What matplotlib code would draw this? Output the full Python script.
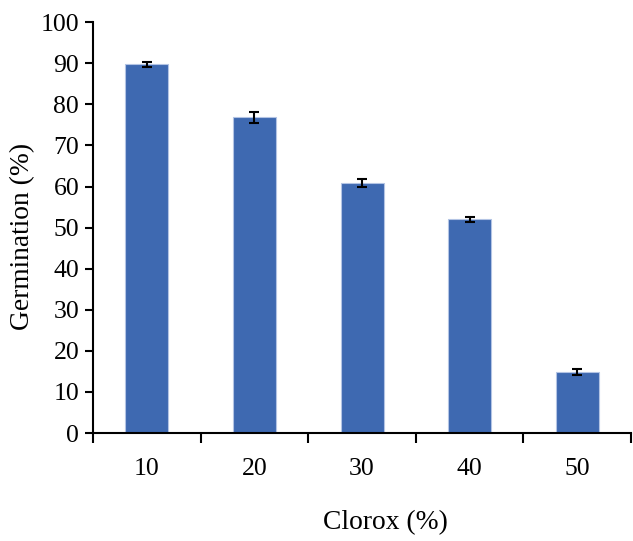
import matplotlib
matplotlib.use('Agg')
import matplotlib.pyplot as plt
import numpy as np

# data
clorox = ['10', '20', '30', '40', '50']
germination = [89.8, 76.8, 60.9, 52.0, 14.9]
sem = [0.6, 1.4, 1.0, 0.55, 0.7]

plt.rcParams['font.family'] = ['Liberation Serif', 'DejaVu Serif']

fig = plt.figure(figsize=(6.33, 5.41), dpi=100)
ax = fig.add_axes([0.147, 0.1996, 0.85, 0.7594])

x = np.arange(len(clorox))
ax.bar(x, germination, width=0.4, color='#3e69b1', edgecolor='#b3c4e4', linewidth=0.8, zorder=2)
ax.errorbar(x, germination, yerr=sem, fmt='none', ecolor='black', elinewidth=1.5,
            capsize=3.5, capthick=1.5, zorder=3)

ax.set_xlim(-0.5, len(clorox) - 0.5)
ax.set_ylim(0, 100)
ax.set_yticks(np.arange(0, 101, 10))
ax.set_xticks(x)
ax.set_xticklabels(clorox)
ax.set_xticks(np.arange(-0.5, len(clorox)), minor=True)
ax.tick_params(axis='x', which='major', length=0, pad=18, labelsize=18.5)
ax.tick_params(axis='x', which='minor', length=7, width=1.5, direction='out')
ax.tick_params(axis='y', length=6, width=1.5, direction='out', labelsize=18.5, pad=4)

for s in ['top', 'right']:
    ax.spines[s].set_visible(False)
for s in ['left', 'bottom']:
    ax.spines[s].set_linewidth(1.5)

ax.set_xlabel('Clorox (%)', fontsize=19.8)
ax.set_ylabel('Germination (%)', fontsize=19.8)
ax.xaxis.set_label_coords(0.543, -0.187)
ax.yaxis.set_label_coords(-0.108, 0.479)

fig.savefig('out.png', dpi=100)
